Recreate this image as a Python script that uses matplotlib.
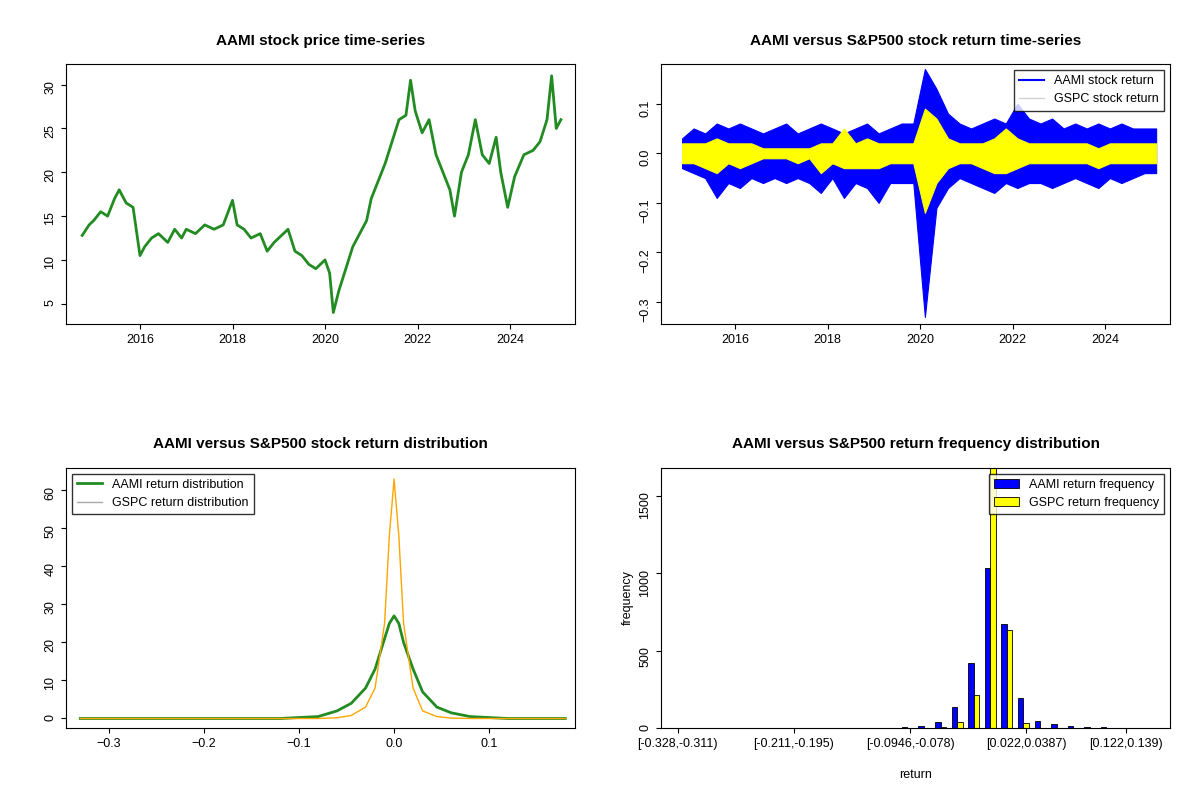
import numpy as np
import matplotlib.pyplot as plt

# price (decimal year, price)
price_t = [2014.75, 2014.9, 2015.0, 2015.15, 2015.3, 2015.45, 2015.55, 2015.7, 2015.85, 2016.0, 2016.1, 2016.25,
           2016.4, 2016.6, 2016.75, 2016.9, 2017.0, 2017.2, 2017.4, 2017.6, 2017.8, 2018.0, 2018.1, 2018.25,
           2018.4, 2018.6, 2018.75, 2018.9, 2019.0, 2019.2, 2019.35, 2019.5, 2019.65, 2019.8, 2020.0, 2020.1,
           2020.18, 2020.3, 2020.45, 2020.6, 2020.75, 2020.9, 2021.0, 2021.15, 2021.3, 2021.45, 2021.6, 2021.75,
           2021.85, 2021.95, 2022.1, 2022.25, 2022.4, 2022.55, 2022.7, 2022.8, 2022.95, 2023.1, 2023.25, 2023.4,
           2023.55, 2023.7, 2023.8, 2023.95, 2024.1, 2024.3, 2024.5, 2024.65, 2024.8, 2024.9, 2025.0, 2025.1]
price_v = [12.8, 14.0, 14.5, 15.5, 15.0, 17.0, 18.0, 16.5, 16.0, 10.5, 11.5, 12.5,
           13.0, 12.0, 13.5, 12.5, 13.5, 13.0, 14.0, 13.5, 14.0, 16.8, 14.0, 13.5,
           12.5, 13.0, 11.0, 12.0, 12.5, 13.5, 11.0, 10.5, 9.5, 9.0, 10.0, 8.5,
           4.0, 6.5, 9.0, 11.5, 13.0, 14.5, 17.0, 19.0, 21.0, 23.5, 26.0, 26.5,
           30.5, 27.0, 24.5, 26.0, 22.0, 20.0, 18.0, 15.0, 20.0, 22.0, 26.0, 22.0,
           21.0, 24.0, 20.0, 16.0, 19.5, 22.0, 22.5, 23.5, 26.0, 31.0, 25.0, 26.0]

# return extremes per quarter (AAMI high / low, GSPC high / low)
ret_t = np.arange(2014.85, 2025.15, 0.25)
aami_hi = [0.03, 0.05, 0.04, 0.06, 0.05, 0.06, 0.05, 0.04, 0.05, 0.06, 0.04, 0.05, 0.06, 0.05, 0.04, 0.05, 0.06,
           0.04, 0.05, 0.06, 0.06, 0.17, 0.13, 0.08, 0.06, 0.05, 0.06, 0.07, 0.06, 0.10, 0.07, 0.06, 0.07, 0.05,
           0.06, 0.05, 0.06, 0.05, 0.06, 0.05, 0.05, 0.05]
aami_lo = [-0.03, -0.04, -0.05, -0.09, -0.06, -0.07, -0.05, -0.06, -0.05, -0.06, -0.05, -0.06, -0.08, -0.05,
           -0.09, -0.06, -0.07, -0.10, -0.06, -0.06, -0.06, -0.33, -0.11, -0.07, -0.05, -0.06, -0.07, -0.08,
           -0.06, -0.07, -0.06, -0.06, -0.07, -0.06, -0.05, -0.06, -0.07, -0.05, -0.06, -0.05, -0.04, -0.04]
gspc_hi = [0.02, 0.02, 0.02, 0.03, 0.02, 0.02, 0.02, 0.01, 0.01, 0.01, 0.01, 0.01, 0.02, 0.02, 0.05, 0.02, 0.03,
           0.02, 0.02, 0.02, 0.02, 0.09, 0.07, 0.03, 0.02, 0.02, 0.02, 0.03, 0.05, 0.03, 0.02, 0.02, 0.02, 0.02,
           0.02, 0.02, 0.01, 0.02, 0.02, 0.02, 0.02, 0.02]
gspc_lo = [-0.02, -0.02, -0.03, -0.04, -0.02, -0.03, -0.02, -0.01, -0.01, -0.01, -0.02, -0.01, -0.04, -0.02,
           -0.03, -0.03, -0.03, -0.03, -0.02, -0.02, -0.02, -0.12, -0.06, -0.03, -0.02, -0.02, -0.03, -0.04,
           -0.04, -0.03, -0.02, -0.02, -0.02, -0.02, -0.02, -0.02, -0.03, -0.02, -0.02, -0.02, -0.02, -0.02]

# density curves
dens_x = [-0.33, -0.12, -0.08, -0.06, -0.045, -0.03, -0.02, -0.01, -0.005, 0.0, 0.005, 0.01, 0.02, 0.03, 0.045,
          0.06, 0.08, 0.12, 0.18]
aami_dens = [0, 0, 0.5, 2, 4, 8, 13, 21, 25, 27, 25, 20, 13, 7, 3, 1.5, 0.5, 0, 0]
gspc_dens = [0, 0, 0, 0.2, 0.8, 3, 8, 25, 48, 63, 48, 25, 8, 2, 0.5, 0.1, 0, 0, 0]

# histogram counts, 30 bins
aami_freq = [1, 1, 1, 1, 1, 1, 1, 1, 1, 1, 1, 1, 2, 3, 5, 15, 40, 135, 420, 1030, 670, 195, 45, 25, 12, 6, 4, 3, 2, 3]
gspc_freq = [0, 0, 0, 0, 0, 0, 0, 0, 0, 0, 0, 0, 0, 1, 1, 2, 5, 40, 210, 1900, 630, 30, 3, 1, 1, 0, 0, 0, 0, 0]
hist_tick_bins = [0, 7, 14, 21, 27]
hist_tick_labels = ['[-0.328,-0.311)', '[-0.211,-0.195)', '[-0.0946,-0.078)', '[0.022,0.0387)', '[0.122,0.139)']

plt.rcParams['font.family'] = ['Liberation Sans', 'DejaVu Sans']
plt.rcParams['font.size'] = 9
fig, axs = plt.subplots(2, 2, figsize=(12, 8), dpi=100)
plt.subplots_adjust(left=0.055, right=0.975, top=0.92, bottom=0.09, hspace=0.55, wspace=0.17)
for ax in axs.flat:
    ax.tick_params(labelsize=9)

ax = axs[0, 0]
ax.plot(price_t, price_v, color='forestgreen', lw=2)
ax.set_title('AAMI stock price time-series', fontweight='bold', fontsize=11, pad=14)
ax.set_xticks([2016, 2018, 2020, 2022, 2024])
ax.set_yticks([5, 10, 15, 20, 25, 30])
ax.set_xlim(2014.4, 2025.4)
ax.tick_params(axis='y', labelrotation=90)

ax = axs[0, 1]
ax.fill_between(ret_t, aami_lo, aami_hi, color='blue', lw=0.8, edgecolor='blue')
ax.fill_between(ret_t, gspc_lo, gspc_hi, color='yellow', lw=0.8, edgecolor='yellow')
ax.set_title('AAMI versus S&P500 stock return time-series', fontweight='bold', fontsize=11, pad=14)
ax.set_xticks([2016, 2018, 2020, 2022, 2024])
ax.set_yticks([-0.3, -0.2, -0.1, 0.0, 0.1])
ax.set_xlim(2014.4, 2025.4)
ax.set_ylim(-0.345, 0.18)
ax.tick_params(axis='y', labelrotation=90)
h1, = ax.plot([], [], color='blue', lw=1.5)
h2, = ax.plot([], [], color='lightgray', lw=1)
ax.legend([h1, h2], ['AAMI stock return', 'GSPC stock return'], loc='upper right', fancybox=False,
          edgecolor='black', fontsize=9)

ax = axs[1, 0]
ax.plot(dens_x, aami_dens, color='forestgreen', lw=2, label='AAMI return distribution')
ax.plot(dens_x, gspc_dens, color='orange', lw=1, label='GSPC return distribution')
ax.set_title('AAMI versus S&P500 stock return distribution', fontweight='bold', fontsize=11, pad=14)
ax.set_xticks([-0.3, -0.2, -0.1, 0.0, 0.1])
ax.set_xlim(-0.345, 0.19)
ax.set_ylim(-2.5, 66)
ax.tick_params(axis='y', labelrotation=90)
leg = ax.legend(loc='upper left', fancybox=False, edgecolor='black', fontsize=9)
leg.get_lines()[1].set_color('darkgray')

ax = axs[1, 1]
n = len(aami_freq)
idx = np.arange(n)
ax.bar(idx * 3 + 1, aami_freq, width=1, color='blue', edgecolor='black', lw=0.6, label='AAMI return frequency')
ax.bar(idx * 3 + 2, gspc_freq, width=1, color='yellow', edgecolor='black', lw=0.6, label='GSPC return frequency')
ax.set_ylim(0, 1680)
ax.set_xlim(-1, n * 3 + 1)
ax.set_xticks([k * 3 + 2 for k in hist_tick_bins])
ax.set_xticklabels(hist_tick_labels)
ax.set_yticks([0, 500, 1000, 1500])
ax.tick_params(axis='y', labelrotation=90)
ax.set_xlabel('return', labelpad=14)
ax.set_ylabel('frequency')
ax.set_title('AAMI versus S&P500 return frequency distribution', fontweight='bold', fontsize=11, pad=14)
ax.legend(loc='upper right', fancybox=False, edgecolor='black', fontsize=9)

plt.savefig('out.png', dpi=100)
